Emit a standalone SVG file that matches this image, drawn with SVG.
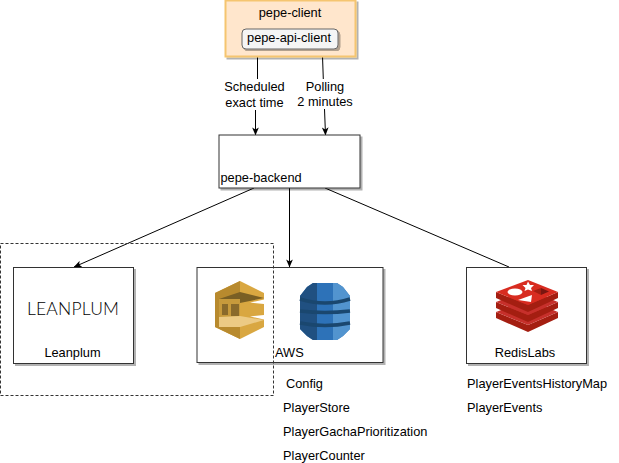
<svg xmlns="http://www.w3.org/2000/svg" width="619" height="463" viewBox="0 0 619 463">
<defs>
<marker id="arr" viewBox="0 0 10 10" refX="9.5" refY="5" markerWidth="8" markerHeight="8" markerUnits="userSpaceOnUse" orient="auto"><path d="M0 0.8L10 5L0 9.2L2.5 5Z" fill="#000"/></marker>
<filter id="sh" x="-5%" y="-5%" width="112%" height="112%"><feDropShadow dx="2" dy="2" stdDeviation="0.6" flood-color="#000" flood-opacity="0.3"/></filter>
</defs>
<style>
text{font-family:"Liberation Sans",Arial,sans-serif;font-size:12.8px;fill:#000}
.m{text-anchor:middle}
.box{fill:#fff;stroke:#333;stroke-width:1;filter:url(#sh)}
.c{fill:none;stroke:#000;stroke-width:1}
.side{fill:#a41e11}
.top{fill:#c6302b}
</style>
<rect width="619" height="463" fill="#fff"/>
<g id="connectors">
<path class="c" d="M257.500 56V79"/><path class="c" d="M255.500 110V135" marker-end="url(#arr)"/>
<path class="c" d="M322.500 56L323.300 79"/><path class="c" d="M324.500 109L325.500 135" marker-end="url(#arr)"/>
<path class="c" d="M254 188L74 267" marker-end="url(#arr)"/>
<path class="c" d="M289.500 188V267" marker-end="url(#arr)"/>
<path class="c" d="M325 188L509 267"/>
</g>
<g id="pepe-client">
<rect x="225.500" y="0.500" width="130" height="56" fill="#ffe6cc" stroke="#f5c56f" stroke-width="2" filter="url(#sh)"/>
<text class="m" x="290" y="17">pepe-client</text>
<g id="pepe-api-client"><rect x="242" y="29" width="96" height="20" rx="4" fill="#f5f5f5" stroke="#666" filter="url(#sh)"/>
<text class="m" x="289" y="42">pepe-api-client</text></g>
</g>
<g id="edge-labels">
<text class="m" x="254.500" y="91">Scheduled</text><text class="m" x="254.500" y="107">exact time</text>
<text class="m" x="325" y="91">Polling</text><text class="m" x="325" y="106">2 minutes</text>
</g>
<g id="pepe-backend"><rect class="box" x="219" y="135" width="141" height="53"/><text x="220.500" y="182">pepe-backend</text></g>
<g id="leanplum"><rect class="box" x="13.500" y="267.500" width="120" height="96"/>
<text class="m" x="73" y="314.500" textLength="92" lengthAdjust="spacing" style="font-family:Lato,sans-serif;font-size:17.500px;font-weight:300;fill:#000">LEANPLUM</text>
<text class="m" x="72.500" y="357">Leanplum</text></g>
<g id="aws"><rect class="box" x="197" y="267.500" width="186" height="95"/>
<g id="sqs">
<path d="M240 281L264 293V327L240 339L215 327V293Z" fill="#d9a741"/>
<path d="M240 281V339L215 327V293Z" fill="#b88a2e"/>
<path d="M219 299L240 292L264 298L240 303Z" fill="#7a5f24"/>
<path d="M219 299H240V325H219Z" fill="#c79a3c"/>
<path d="M222 304H228V315H222ZM231 304H239V316H231Z" fill="#8a6a2b"/>
<path d="M240 303L264 306V314L240 316Z" fill="#d9a741"/>
<path d="M219 317L240 316L264 320L240 327H219Z" fill="#ecca84"/>
<path d="M264 299.500L250 302.500L264 304ZM264 315L250 316.500L264 319.500Z" fill="#fff"/>
</g>
<g id="dynamodb">
<path d="M313 283H337L343 287L350 296V329L343 336L337 340H313L307 336L300 329V296L307 287Z" fill="#2e73b8"/>
<path d="M300 296L307 287L313 283H317V340H313L307 336L300 329Z" fill="#205081"/>
<path d="M317 283H333V340H317Z" fill="#2d72b8"/>
<path d="M333 283H337L343 287L350 296V329L343 336L337 340H333Z" fill="#5294cf"/>
<path d="M300 299Q325 307 350 299M300 311Q325 314 350 311M300 323Q325 328 350 323" fill="none" stroke="#1a476f" stroke-width="3.500"/>
</g>
<text x="275" y="357">AWS</text></g>
<g id="redislabs"><rect class="box" x="466.500" y="267.500" width="120" height="96"/>
<g id="redis-logo">
<path class="side" d="M496 312V318L528 332L558 318V312L528 325Z"/>
<path class="top" d="M496 312L528 300L558 312L528 325Z"/>
<path class="side" d="M496 302V308L528 322L558 308V302L528 315Z"/>
<path class="top" d="M496 302L528 290L558 302L528 315Z"/>
<path class="side" d="M496 292V298L528 312L558 298V292L528 305Z"/>
<path d="M496 292L528 280L558 292L528 305Z" fill="#d82c20"/>
<ellipse cx="515" cy="292" rx="7.500" ry="3.500" fill="#fff"/>
<path d="M528 281.500L530 285H534L531 288L532 291L528 289.500L524.500 291L525.500 288L522.500 285H526.500Z" fill="#fff"/>
<path d="M518 300L532 295L531 302Z" fill="#fff"/>
<path d="M533 291L541 288L541 295Z" fill="#a41e11"/>
<path d="M541 288L549 291.500L541 295Z" fill="#7a1610"/>
</g>
<text class="m" x="525" y="357">RedisLabs</text></g>
<g id="aws-tables">
<text x="286" y="388">Config</text><text x="283" y="412">PlayerStore</text>
<text x="283" y="436">PlayerGachaPrioritization</text><text x="283" y="460">PlayerCounter</text>
</g>
<g id="redis-tables">
<text x="467" y="388">PlayerEventsHistoryMap</text><text x="467" y="412">PlayerEvents</text>
</g>
<g id="boundary"><rect x="0.500" y="243.500" width="273" height="152" fill="none" stroke="#333" stroke-width="1" stroke-dasharray="3 2"/></g>
</svg>
